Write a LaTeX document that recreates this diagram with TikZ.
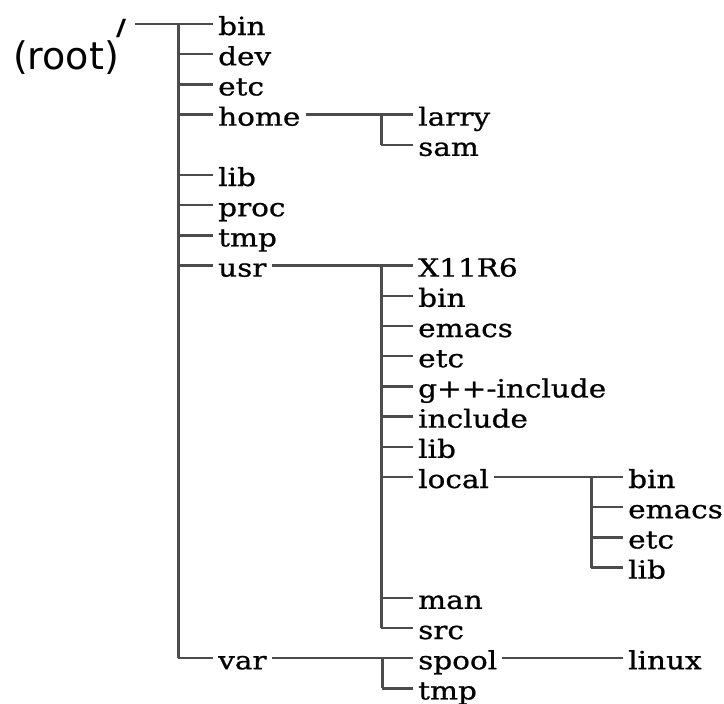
\documentclass[tikz,border=0pt]{standalone}
\usepackage{fontspec}
\setmainfont[FakeStretch=1.18, FakeBold=0.8]{DejaVu Serif}
\newfontfamily\rootfont{DejaVu Sans}
\tikzset{
  dir/.style={font=\fontsize{25}{28}\selectfont, anchor=west, inner xsep=5pt, inner ysep=0pt, text height=23pt, text depth=1pt},
  branch/.style={line width=2.4pt, black!70},
  bar/.style={line width=3pt, black!70},
}

\begin{document}
\begin{tikzpicture}[x=1pt, y=-1pt]
  \useasboundingbox (0,0) rectangle (724,704);

  % Root
  \node[dir, anchor=center, inner xsep=9pt, font=\bfseries\fontsize{22}{24}\selectfont] (slash) at (121,24) {/};
  \node[font=\rootfont\fontsize{38}{40}\selectfont, inner sep=0pt] (root) at (66,58) {(root)};

  % Top level directories
  \foreach \n/\txt/\r in {bin/bin/0, dev/dev/1, etc/etc/2, home/home/3, lib/lib/5,
      proc/proc/6, tmp/tmp/7, usr/usr/8, var/var/21}
    \node[dir] (\n) at (213,{24+30.2*\r}) {\txt};

  % Second level
  \foreach \n/\txt/\r in {larry/larry/3, sam/sam/4, xr/X11R6/8, usrbin/bin/9,
      usremacs/emacs/10, usretc/etc/11, gpp/g++-include/12, include/include/13,
      usrlib/lib/14, local/local/15, man/man/19, src/src/20, spool/spool/21, vartmp/tmp/22}
    \node[dir] (\n) at (413,{24+30.2*\r}) {\txt};

  % Third level
  \foreach \n/\txt/\r in {locbin/bin/15, locemacs/emacs/16, locetc/etc/17, loclib/lib/18, linux/linux/21}
    \node[dir] (\n) at (623,{24+30.2*\r}) {\txt};

  % Bars
  \coordinate (rootbar) at (178,24);
  \coordinate (homebar) at (381,{24+30.2*3});
  \coordinate (usrbar) at (381,{24+30.2*8});
  \coordinate (varbar) at (382,{24+30.2*21});
  \coordinate (localbar) at (591,{24+30.2*15});

  \draw[branch] (slash.east) -- (rootbar);
  \draw[bar] (rootbar) -- (rootbar |- var.west);
  \foreach \n in {bin,dev,etc,home,lib,proc,tmp,usr,var}
    \draw[branch] (rootbar |- \n.west) -- (\n.west);

  \draw[branch] (home.east) -- (homebar);
  \draw[bar] (homebar) -- (homebar |- sam.west);
  \foreach \n in {larry,sam}
    \draw[branch] (homebar |- \n.west) -- (\n.west);

  \draw[branch] (usr.east) -- (usrbar);
  \draw[bar] (usrbar) -- (usrbar |- src.west);
  \foreach \n in {xr,usrbin,usremacs,usretc,gpp,include,usrlib,local,man,src}
    \draw[branch] (usrbar |- \n.west) -- (\n.west);

  \draw[branch] (local.east) -- (localbar);
  \draw[bar] (localbar) -- (localbar |- loclib.west);
  \foreach \n in {locbin,locemacs,locetc,loclib}
    \draw[branch] (localbar |- \n.west) -- (\n.west);

  \draw[branch] (var.east) -- (varbar);
  \draw[bar] (varbar) -- (varbar |- vartmp.west);
  \foreach \n in {spool,vartmp}
    \draw[branch] (varbar |- \n.west) -- (\n.west);

  \draw[branch] (spool.east) -- (linux.west);
\end{tikzpicture}
\end{document}
